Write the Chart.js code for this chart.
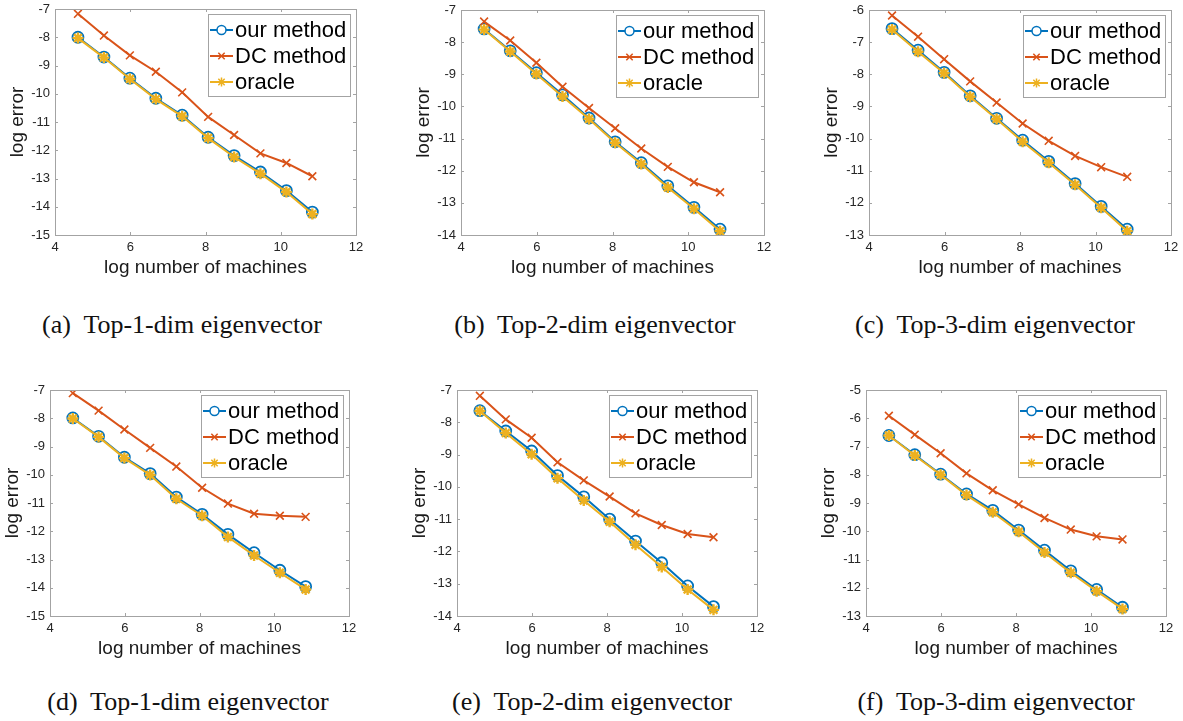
<!DOCTYPE html>
<html>
<head>
<meta charset="utf-8">
<script src="https://cdn.jsdelivr.net/npm/chart.js@4"></script>
<style>
  html, body { margin: 0; padding: 0; background: #fff; }
  body { width: 1183px; height: 721px; position: relative; overflow: hidden; }
  .panel { position: absolute; }
  .caption {
    position: absolute; width: 400px; text-align: center;
    font-family: 'Liberation Serif', 'DejaVu Serif', serif; font-size: 26px; color: #111;
    white-space: pre; line-height: 30px;
  }
</style>
</head>
<body>
<script>
// x values: log number of machines
const logMachines = [4.61, 5.30, 5.99, 6.68, 7.38, 8.07, 8.76, 9.46, 10.15, 10.84];

// (a) Top-1-dim
const ourA    = [-8.00, -8.70, -9.45, -10.16, -10.76, -11.54, -12.19, -12.77, -13.43, -14.19];
const dcA     = [-7.17, -7.94, -8.64, -9.22, -9.95, -10.82, -11.46, -12.11, -12.45, -12.92];
const oracleA = [-8.03, -8.72, -9.48, -10.19, -10.80, -11.57, -12.24, -12.83, -13.48, -14.26];
// (b) Top-2-dim
const ourB    = [-7.59, -8.27, -8.95, -9.64, -10.36, -11.10, -11.75, -12.47, -13.14, -13.82];
const dcB     = [-7.36, -7.95, -8.64, -9.39, -10.05, -10.68, -11.31, -11.88, -12.36, -12.67];
const oracleB = [-7.61, -8.29, -8.99, -9.69, -10.39, -11.13, -11.79, -12.52, -13.18, -13.88];
// (c) Top-3-dim
const ourC    = [-6.58, -7.25, -7.94, -8.67, -9.37, -10.05, -10.71, -11.40, -12.11, -12.82];
const dcC     = [-6.17, -6.83, -7.53, -8.22, -8.88, -9.53, -10.07, -10.54, -10.89, -11.19];
const oracleC = [-6.61, -7.30, -7.97, -8.70, -9.39, -10.10, -10.75, -11.44, -12.15, -12.88];
// (d) Top-1-dim
const ourD    = [-7.99, -8.64, -9.38, -9.96, -10.79, -11.40, -12.11, -12.76, -13.38, -13.96];
const dcD     = [-7.11, -7.73, -8.40, -9.05, -9.71, -10.46, -11.02, -11.38, -11.45, -11.49];
const oracleD = [-8.01, -8.66, -9.41, -10.01, -10.85, -11.45, -12.20, -12.86, -13.47, -14.06];
// (e) Top-2-dim
const ourE    = [-7.64, -8.27, -8.89, -9.65, -10.31, -11.00, -11.68, -12.35, -13.07, -13.71];
const dcE     = [-7.18, -7.91, -8.48, -9.24, -9.80, -10.30, -10.82, -11.18, -11.46, -11.56];
const oracleE = [-7.65, -8.33, -8.99, -9.73, -10.42, -11.08, -11.79, -12.48, -13.18, -13.81];
// (f) Top-3-dim
const ourF    = [-6.61, -7.29, -7.98, -8.68, -9.26, -9.96, -10.67, -11.40, -12.06, -12.69];
const dcF     = [-5.91, -6.58, -7.24, -7.95, -8.55, -9.05, -9.53, -9.94, -10.18, -10.29];
const oracleF = [-6.61, -7.32, -8.00, -8.72, -9.33, -10.02, -10.75, -11.47, -12.12, -12.75];

const seriesNames = ['our method', 'DC method', 'oracle'];
const xTicks = [4, 6, 8, 10, 12];
const yRanges = [[-15, -7], [-14, -7], [-13, -6], [-15, -7], [-14, -7], [-13, -5]];
const captionTags = ['(a)', '(b)', '(c)', '(d)', '(e)', '(f)'];
const captionTexts = ['Top-1-dim eigenvector', 'Top-2-dim eigenvector', 'Top-3-dim eigenvector',
                      'Top-1-dim eigenvector', 'Top-2-dim eigenvector', 'Top-3-dim eigenvector'];

const panelSeries = [
  [ourA, dcA, oracleA], [ourB, dcB, oracleB], [ourC, dcC, oracleC],
  [ourD, dcD, oracleD], [ourE, dcE, oracleE], [ourF, dcF, oracleF]
];

// plot boxes on the page: left, top, right, bottom
const plotBoxes = [
  [55, 9, 356, 235], [461, 10, 764, 235], [869, 10, 1171, 235],
  [50, 390, 349, 616], [457, 390, 757, 616], [866, 390, 1166, 616]
];
const captionPos = [[182, 325], [595, 325], [995, 325], [188, 702], [592, 702], [996, 702]];

const COLORS = ['#0072BD', '#D95319', '#EDB120'];
const STYLES = ['circle', 'crossRot', 'star'];
const RADII = [5.5, 5.5, 5.5];
const MARK_W = [1.8, 1.6, 2.4];
const AXIS_GRAY = '#a3a3a3';
const PAD_L = 55, PAD_T = 15, PAD_R = 25, PAD_B = 55, X_AXIS_H = 50;

Chart.defaults.font.family = "'Liberation Sans', Arial, sans-serif";
Chart.defaults.color = '#262626';

// MATLAB-like box with inward ticks
const boxPlugin = {
  id: 'matlabBox',
  afterDatasetsDraw(chart) {
    const { ctx, chartArea: a, scales } = chart;
    ctx.save();
    ctx.strokeStyle = AXIS_GRAY;
    ctx.lineWidth = 1;
    ctx.beginPath();
    scales.x.ticks.forEach(t => {
      const px = Math.round(scales.x.getPixelForValue(t.value)) + 0.5;
      ctx.moveTo(px, a.bottom); ctx.lineTo(px, a.bottom - 3);
      ctx.moveTo(px, a.top); ctx.lineTo(px, a.top + 3);
    });
    scales.y.ticks.forEach(t => {
      const py = Math.round(scales.y.getPixelForValue(t.value)) + 0.5;
      ctx.moveTo(a.left, py); ctx.lineTo(a.left + 3, py);
      ctx.moveTo(a.right, py); ctx.lineTo(a.right - 3, py);
    });
    ctx.stroke();
    ctx.strokeRect(Math.round(a.left) + 0.5, Math.round(a.top) + 0.5,
                   Math.round(a.right - a.left), Math.round(a.bottom - a.top));
    ctx.restore();
  }
};

// legend box in the upper-right corner of the plot
const insideLegend = {
  id: 'insideLegend',
  afterDraw(chart) {
    const { ctx, chartArea: a } = chart;
    ctx.save();
    ctx.font = "22px 'Liberation Sans', Arial, sans-serif";
    const textW = Math.max(...seriesNames.map(n => ctx.measureText(n).width));
    const w = Math.round(27 + textW + 4), h = 82;
    const x0 = Math.round(a.right - 6 - w), y0 = Math.round(a.top + 5);
    ctx.fillStyle = '#fff';
    ctx.fillRect(x0, y0, w, h);
    ctx.strokeStyle = AXIS_GRAY;
    ctx.lineWidth = 1;
    ctx.strokeRect(x0 + 0.5, y0 + 0.5, w, h);
    seriesNames.forEach((name, i) => {
      const cy = y0 + 16 + i * 26;
      ctx.strokeStyle = COLORS[i];
      ctx.lineWidth = 2;
      ctx.beginPath();
      ctx.moveTo(x0 + 2, cy); ctx.lineTo(x0 + 25, cy);
      ctx.stroke();
      ctx.fillStyle = '#fff';
      ctx.lineWidth = 1.5;
      Chart.helpers.drawPoint(ctx, { pointStyle: STYLES[i], radius: 4.5, borderWidth: 1.5, rotation: 0 }, x0 + 13.5, cy);
      ctx.fillStyle = '#000';
      ctx.textBaseline = 'middle';
      ctx.fillText(name, x0 + 27, cy + 1);
    });
    ctx.restore();
  }
};

panelSeries.forEach((series, p) => {
  const [L, T, R, B] = plotBoxes[p];
  const wrap = document.createElement('div');
  wrap.className = 'panel';
  const cw = PAD_L + (R - L) + PAD_R;
  const ch = PAD_T + (B - T) + PAD_B;
  wrap.style.left = (L - PAD_L) + 'px';
  wrap.style.top = (T - PAD_T) + 'px';
  wrap.style.width = cw + 'px';
  wrap.style.height = ch + 'px';
  const canvas = document.createElement('canvas');
  canvas.width = cw; canvas.height = ch;
  wrap.appendChild(canvas);
  document.body.appendChild(wrap);

  const datasets = series.map((vals, i) => ({
    label: seriesNames[i],
    data: vals.map((v, k) => ({ x: logMachines[k], y: v })),
    borderColor: COLORS[i],
    backgroundColor: COLORS[i],
    borderWidth: 2,
    pointStyle: STYLES[i],
    pointRadius: RADII[i],
    pointBorderWidth: MARK_W[i],
    pointBackgroundColor: i === 0 ? 'rgba(0,0,0,0)' : COLORS[i],
    pointBorderColor: COLORS[i],
    tension: 0,
    order: 2 - i
  }));

  new Chart(canvas, {
    type: 'line',
    data: { datasets },
    options: {
      responsive: false,
      animation: false,
      devicePixelRatio: 1,
      layout: { padding: { left: 0, top: PAD_T, right: PAD_R, bottom: PAD_B - X_AXIS_H } },
      plugins: { legend: { display: false }, tooltip: { enabled: false } },
      scales: {
        x: {
          type: 'linear', min: 4, max: 12,
          afterBuildTicks: s => { s.ticks = xTicks.map(v => ({ value: v })); },
          afterFit: s => { s.height = X_AXIS_H; },
          grid: { display: false, drawTicks: false },
          border: { display: false },
          ticks: { padding: 5, font: { size: 13 }, maxRotation: 0 },
          title: { display: true, text: 'log number of machines', font: { size: 19 },
                   padding: { top: 0, bottom: 6 }, color: '#1a1a1a' }
        },
        y: {
          type: 'linear', min: yRanges[p][0], max: yRanges[p][1],
          afterFit: s => { s.width = PAD_L; },
          grid: { display: false, drawTicks: false },
          border: { display: false },
          ticks: { stepSize: 1, padding: 5, font: { size: 13 }, callback: v => String(v) },
          title: { display: true, text: 'log error', font: { size: 19 },
                   padding: { top: 6, bottom: 0 }, color: '#1a1a1a' }
        }
      }
    },
    plugins: [boxPlugin, insideLegend]
  });

  const cap = document.createElement('div');
  cap.className = 'caption';
  cap.textContent = captionTags[p] + '  ' + captionTexts[p];
  cap.style.left = (captionPos[p][0] - 200) + 'px';
  cap.style.top = (captionPos[p][1] - 15) + 'px';
  document.body.appendChild(cap);
});
</script>
</body>
</html>
